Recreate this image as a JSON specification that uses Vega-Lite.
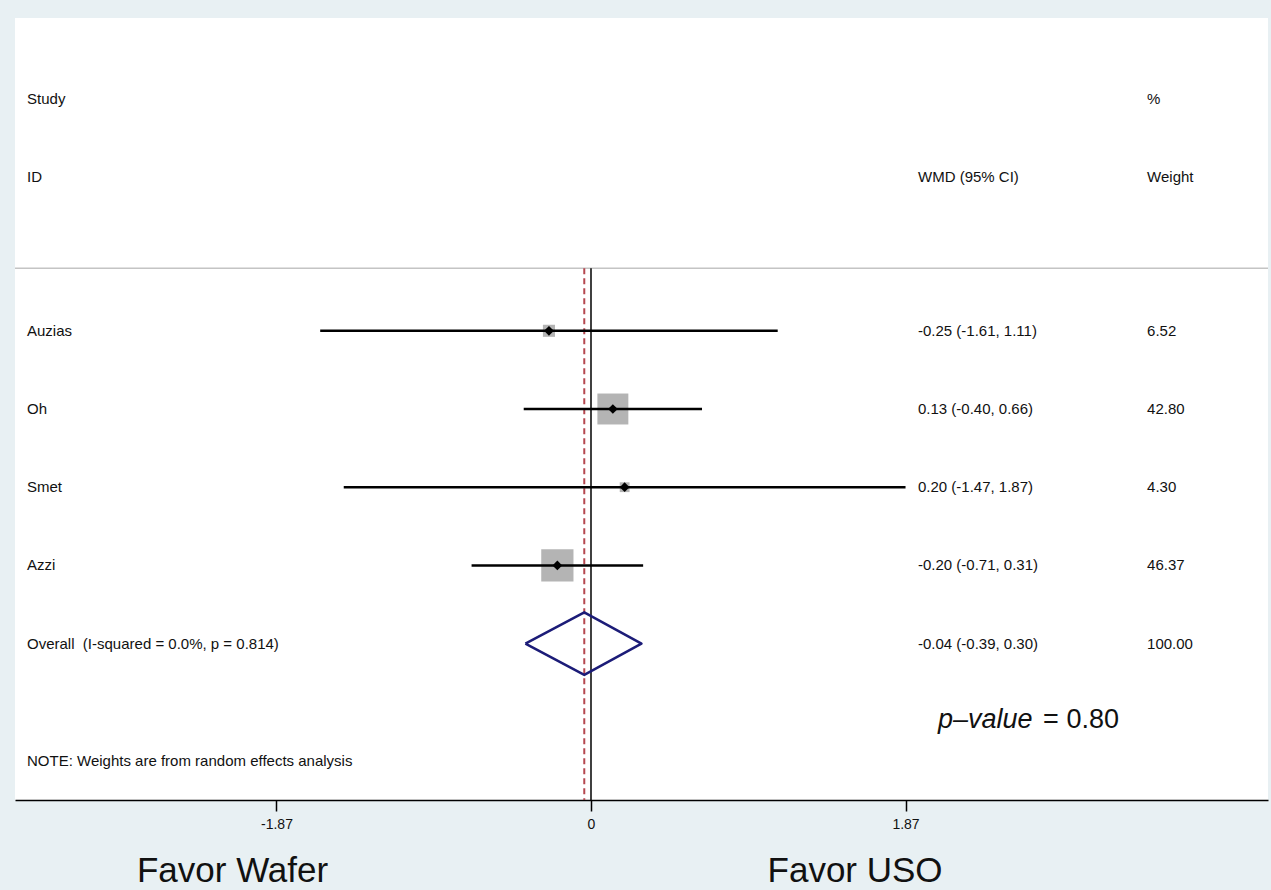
{
  "$schema": "https://vega.github.io/schema/vega-lite/v6.json",
  "width": 1253,
  "height": 782,
  "autosize": "none",
  "padding": {"left": 15, "top": 18, "right": 3, "bottom": 90},
  "background": "#e8f0f3",
  "config": {
    "view": {"fill": "white", "stroke": null},
    "font": "Liberation Sans",
    "text": {"font": "Liberation Sans", "color": "#111111"}
  },
  "datasets": {
    "rows": [
      {"study": "Auzias", "kind": "study", "wmd": -0.25, "lo": -1.61, "hi": 1.11, "weight": 6.52, "row": 4, "ci": "-0.25 (-1.61, 1.11)", "wt": "6.52"},
      {"study": "Oh", "kind": "study", "wmd": 0.13, "lo": -0.40, "hi": 0.66, "weight": 42.80, "row": 5, "ci": "0.13 (-0.40, 0.66)", "wt": "42.80"},
      {"study": "Smet", "kind": "study", "wmd": 0.20, "lo": -1.47, "hi": 1.87, "weight": 4.30, "row": 6, "ci": "0.20 (-1.47, 1.87)", "wt": "4.30"},
      {"study": "Azzi", "kind": "study", "wmd": -0.20, "lo": -0.71, "hi": 0.31, "weight": 46.37, "row": 7, "ci": "-0.20 (-0.71, 0.31)", "wt": "46.37"},
      {"study": "Overall\u00a0 (I-squared = 0.0%, p = 0.814)", "kind": "overall", "wmd": -0.04, "lo": -0.39, "hi": 0.30, "weight": 100.00, "row": 8, "ci": "-0.04 (-0.39, 0.30)", "wt": "100.00"}
    ],
    "diamond": [
      {"wmd": -0.39, "row": 8, "o": 1},
      {"wmd": -0.04, "row": 7.6, "o": 2},
      {"wmd": 0.30, "row": 8, "o": 3},
      {"wmd": -0.04, "row": 8.4, "o": 4},
      {"wmd": -0.39, "row": 8, "o": 5}
    ],
    "one": [{}]
  },
  "data": {"name": "rows"},
  "layer": [
    {
      "data": {"name": "one"},
      "mark": {"type": "rule", "color": "#c4c4c4", "strokeWidth": 1.5},
      "encoding": {
        "y": {"datum": 3.2, "type": "quantitative", "scale": {"domain": [0, 10], "reverse": true, "nice": false, "zero": false}, "axis": null}
      }
    },
    {
      "data": {"name": "one"},
      "mark": {"type": "rule", "color": "#000000", "strokeWidth": 1.5},
      "encoding": {
        "x": {"datum": 0, "type": "quantitative", "scale": {"domain": [-3.4245, 4.025], "nice": false, "zero": false}, "title": null,
          "axis": {"values": [-1.87, 0, 1.87], "labelExpr": "toString(datum.value)", "grid": false, "domainColor": "#000000", "domainWidth": 1.5, "tickColor": "#000000", "tickWidth": 1.5, "tickSize": 11, "labelFontSize": 14, "labelColor": "#111111", "labelPadding": 6, "labelFont": "Liberation Sans", "labelFlush": false, "title": null}},
        "y": {"datum": 3.2, "type": "quantitative", "scale": {"domain": [0, 10], "reverse": true, "nice": false, "zero": false}, "axis": null},
        "y2": {"datum": 10}
      }
    },
    {
      "transform": [{"filter": "datum.kind == 'overall'"}],
      "mark": {"type": "rule", "color": "#b5474f", "strokeWidth": 2, "strokeDash": [6, 4]},
      "encoding": {
        "x": {"field": "wmd", "type": "quantitative", "title": null},
        "y": {"datum": 3.2, "type": "quantitative", "axis": null},
        "y2": {"datum": 10}
      }
    },
    {
      "transform": [{"filter": "datum.kind == 'study'"}],
      "mark": {"type": "point", "shape": "square", "filled": true, "color": "#b4b4b4", "opacity": 1},
      "encoding": {
        "x": {"field": "wmd", "type": "quantitative", "title": null},
        "y": {"field": "row", "type": "quantitative", "axis": null},
        "size": {"field": "weight", "type": "quantitative", "scale": {"domain": [0, 50], "range": [0, 1120], "zero": true}, "legend": null}
      }
    },
    {
      "transform": [{"filter": "datum.kind == 'study'"}],
      "mark": {"type": "rule", "color": "#000000", "strokeWidth": 2.5},
      "encoding": {
        "x": {"field": "lo", "type": "quantitative", "title": null},
        "x2": {"field": "hi"},
        "y": {"field": "row", "type": "quantitative", "axis": null}
      }
    },
    {
      "transform": [{"filter": "datum.kind == 'study'"}],
      "mark": {"type": "point", "shape": "diamond", "filled": true, "color": "#000000", "size": 95, "opacity": 1},
      "encoding": {
        "x": {"field": "wmd", "type": "quantitative", "title": null},
        "y": {"field": "row", "type": "quantitative", "axis": null}
      }
    },
    {
      "data": {"name": "diamond"},
      "mark": {"type": "line", "color": "#1c1c78", "strokeWidth": 2.5, "strokeJoin": "round"},
      "encoding": {
        "x": {"field": "wmd", "type": "quantitative", "title": null},
        "y": {"field": "row", "type": "quantitative", "axis": null},
        "order": {"field": "o", "type": "quantitative"}
      }
    },
    {
      "mark": {"type": "text", "align": "left", "baseline": "middle", "fontSize": 15},
      "encoding": {
        "x": {"datum": -3.353, "type": "quantitative"},
        "y": {"field": "row", "type": "quantitative", "axis": null},
        "text": {"field": "study"}
      }
    },
    {
      "mark": {"type": "text", "align": "left", "baseline": "middle", "fontSize": 15},
      "encoding": {
        "x": {"datum": 1.944, "type": "quantitative"},
        "y": {"field": "row", "type": "quantitative", "axis": null},
        "text": {"field": "ci"}
      }
    },
    {
      "mark": {"type": "text", "align": "left", "baseline": "middle", "fontSize": 15},
      "encoding": {
        "x": {"datum": 3.306, "type": "quantitative"},
        "y": {"field": "row", "type": "quantitative", "axis": null},
        "text": {"field": "wt"}
      }
    },
    {
      "data": {"name": "one"},
      "mark": {"type": "text", "align": "left", "baseline": "middle", "fontSize": 15, "text": "Study"},
      "encoding": {"x": {"datum": -3.353, "type": "quantitative"}, "y": {"datum": 1.04, "type": "quantitative", "axis": null}}
    },
    {
      "data": {"name": "one"},
      "mark": {"type": "text", "align": "left", "baseline": "middle", "fontSize": 15, "text": "ID"},
      "encoding": {"x": {"datum": -3.353, "type": "quantitative"}, "y": {"datum": 2.03, "type": "quantitative", "axis": null}}
    },
    {
      "data": {"name": "one"},
      "mark": {"type": "text", "align": "left", "baseline": "middle", "fontSize": 15, "text": "WMD (95% CI)"},
      "encoding": {"x": {"datum": 1.944, "type": "quantitative"}, "y": {"datum": 2.03, "type": "quantitative", "axis": null}}
    },
    {
      "data": {"name": "one"},
      "mark": {"type": "text", "align": "left", "baseline": "middle", "fontSize": 15, "text": "%"},
      "encoding": {"x": {"datum": 3.306, "type": "quantitative"}, "y": {"datum": 1.04, "type": "quantitative", "axis": null}}
    },
    {
      "data": {"name": "one"},
      "mark": {"type": "text", "align": "left", "baseline": "middle", "fontSize": 15, "text": "Weight"},
      "encoding": {"x": {"datum": 3.306, "type": "quantitative"}, "y": {"datum": 2.03, "type": "quantitative", "axis": null}}
    },
    {
      "data": {"name": "one"},
      "mark": {"type": "text", "align": "left", "baseline": "middle", "fontSize": 15, "text": "NOTE: Weights are from random effects analysis"},
      "encoding": {"x": {"datum": -3.353, "type": "quantitative"}, "y": {"datum": 9.5, "type": "quantitative", "axis": null}}
    },
    {
      "data": {"name": "one"},
      "mark": {"type": "text", "align": "left", "baseline": "middle", "fontSize": 27, "fontStyle": "italic", "text": "p\u2013value"},
      "encoding": {"x": {"datum": 2.063, "type": "quantitative"}, "y": {"datum": 8.98, "type": "quantitative", "axis": null}}
    },
    {
      "data": {"name": "one"},
      "mark": {"type": "text", "align": "left", "baseline": "middle", "fontSize": 27, "text": "= 0.80"},
      "encoding": {"x": {"datum": 2.688, "type": "quantitative"}, "y": {"datum": 8.98, "type": "quantitative", "axis": null}}
    },
    {
      "data": {"name": "one"},
      "mark": {"type": "text", "align": "center", "baseline": "alphabetic", "fontSize": 35, "text": "Favor Wafer"},
      "encoding": {"x": {"datum": -2.131, "type": "quantitative"}, "y": {"datum": 11.05, "type": "quantitative", "axis": null}}
    },
    {
      "data": {"name": "one"},
      "mark": {"type": "text", "align": "center", "baseline": "alphabetic", "fontSize": 35, "text": "Favor USO"},
      "encoding": {"x": {"datum": 1.57, "type": "quantitative"}, "y": {"datum": 11.05, "type": "quantitative", "axis": null}}
    }
  ]
}
